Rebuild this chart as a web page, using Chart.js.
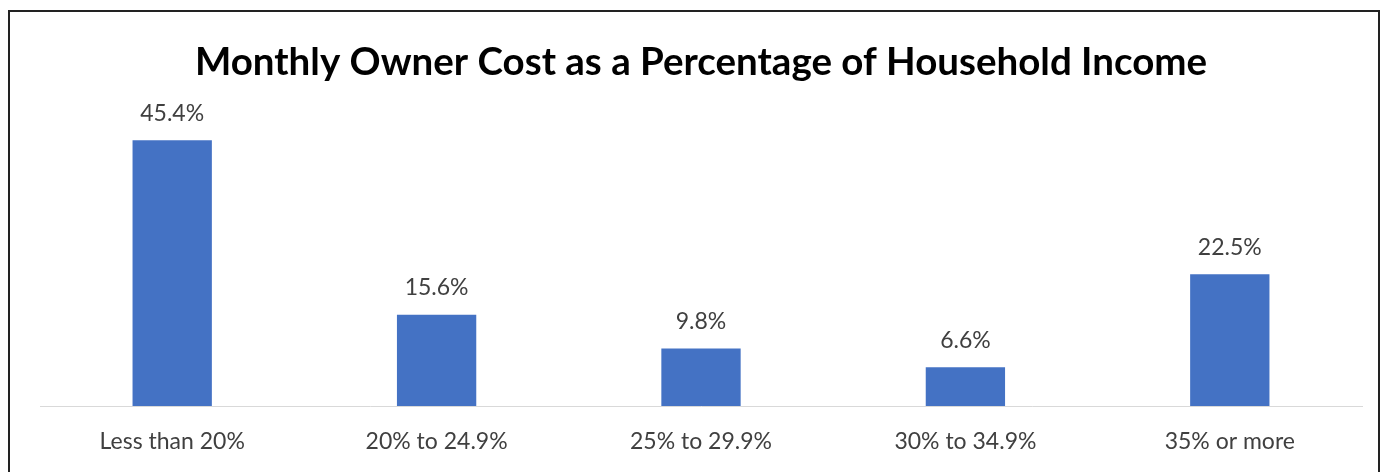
<!DOCTYPE html>
<html>
<head>
<meta charset="utf-8">
<script src="https://cdn.jsdelivr.net/npm/chart.js@4"></script>
<style>
  body { margin: 0; background: #fff; }
  #wrap { position: relative; width: 1382px; height: 472px; }
  #frame {
    position: absolute; left: 8px; top: 10px; width: 1368px; height: 480px;
    border: 2px solid #222; pointer-events: none;
  }
</style>
</head>
<body>
<div id="wrap">
  <canvas id="ownerCostChart" width="1382" height="472"></canvas>
  <div id="frame"></div>
</div>
<script>
const categories = ['Less than 20%', '20% to 24.9%', '25% to 29.9%', '30% to 34.9%', '35% or more'];
const shares = [45.4, 15.6, 9.8, 6.6, 22.5];

const fontFamily = 'Lato, "Open Sans", sans-serif';

// value labels above each bar
const barLabels = {
    id: 'barLabels',
    afterDatasetsDraw(chart) {
        const ctx = chart.ctx;
        const meta = chart.getDatasetMeta(0);
        ctx.save();
        ctx.font = '23px ' + fontFamily;
        ctx.fillStyle = '#404040';
        ctx.textAlign = 'center';
        ctx.textBaseline = 'middle';
        meta.data.forEach((bar, i) => {
            ctx.fillText(shares[i].toFixed(1) + '%', bar.x, bar.y - 27);
        });
        ctx.restore();
    }
};

const ctx = document.getElementById('ownerCostChart').getContext('2d');
const ownerCostChart = new Chart(ctx, {
    type: 'bar',
    data: {
        labels: categories,
        datasets: [{
            data: shares,
            backgroundColor: '#4472C4',
            barPercentage: 0.3,
            categoryPercentage: 1
        }]
    },
    options: {
        responsive: false,
        animation: false,
        layout: {
            padding: { left: 40, right: 20, top: 0, bottom: 22 }
        },
        plugins: {
            legend: { display: false },
            tooltip: { enabled: false },
            title: {
                display: true,
                text: 'Monthly Owner Cost as a Percentage of Household Income',
                color: '#000',
                font: { family: fontFamily, size: 38.5, weight: 'bold', lineHeight: 1.2 },
                padding: { top: 39, bottom: 28 }
            }
        },
        scales: {
            x: {
                grid: { display: false },
                border: { color: '#d9d9d9', width: 1 },
                ticks: {
                    color: '#404040',
                    padding: 14,
                    maxRotation: 0,
                    font: { family: fontFamily, size: 23, lineHeight: 1.2 }
                },
                afterFit(scale) {
                    scale.height = 44;
                }
            },
            y: {
                display: false,
                min: 0,
                max: 50
            }
        },
        events: []
    },
    plugins: [barLabels]
});
</script>
</body>
</html>
